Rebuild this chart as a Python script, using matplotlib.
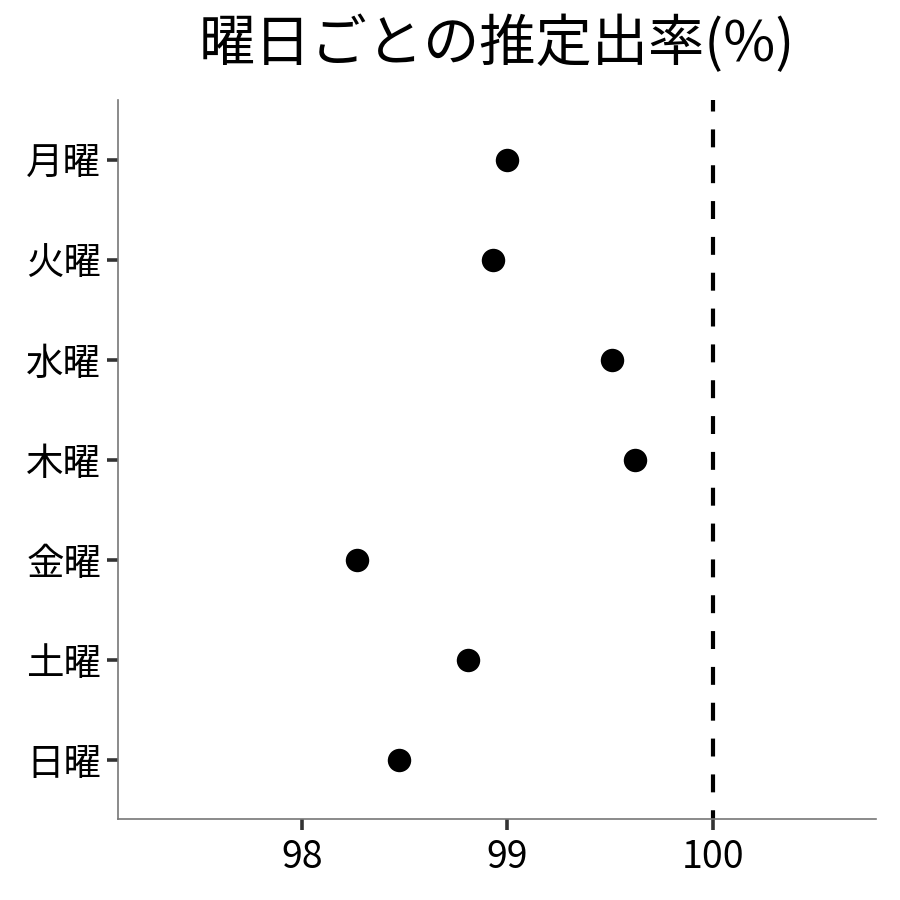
import matplotlib
matplotlib.use("Agg")
import matplotlib.pyplot as plt

plt.rcParams['font.family'] = ['Noto Sans CJK JP', 'DejaVu Sans']

days = ["月曜", "火曜", "水曜", "木曜", "金曜", "土曜", "日曜"]
rates = [99.00, 98.93, 99.51, 99.62, 98.27, 98.81, 98.47]
xticks = [98, 99, 100]
ref_line = 100
title = "曜日ごとの推定出率(%)"

fig = plt.figure(figsize=(9, 9), dpi=100)
ax = fig.add_axes([118/900, 81/900, (876-118)/900, (819-100)/900])

ypos = list(range(len(days)))
ax.scatter(rates, ypos, s=285, color="black", zorder=3, linewidths=0)
ax.axvline(ref_line, color="black", linestyle=(2.2, (4.3, 4.3)), linewidth=3.0, zorder=2)

ax.set_xlim(97.105, 100.793)
ax.set_ylim(6.59, -0.6)
ax.set_yticks(ypos)
ax.set_yticklabels(days)
ax.set_xticks(xticks)
ax.set_xticklabels([str(v) for v in xticks])

for s in ["top", "right"]:
    ax.spines[s].set_visible(False)
for s in ["left", "bottom"]:
    ax.spines[s].set_color("#777777")
    ax.spines[s].set_linewidth(1.2)

ax.tick_params(axis="both", colors="#333333", length=8, width=2.6, labelsize=27, labelcolor="black")
ax.tick_params(axis="x", pad=6)
ax.tick_params(axis="y", pad=4)

fig.text(497/900, 1 - 45/900, title, fontsize=40.5, ha="center", va="center")

fig.savefig("out.png", dpi=100, facecolor="white")
